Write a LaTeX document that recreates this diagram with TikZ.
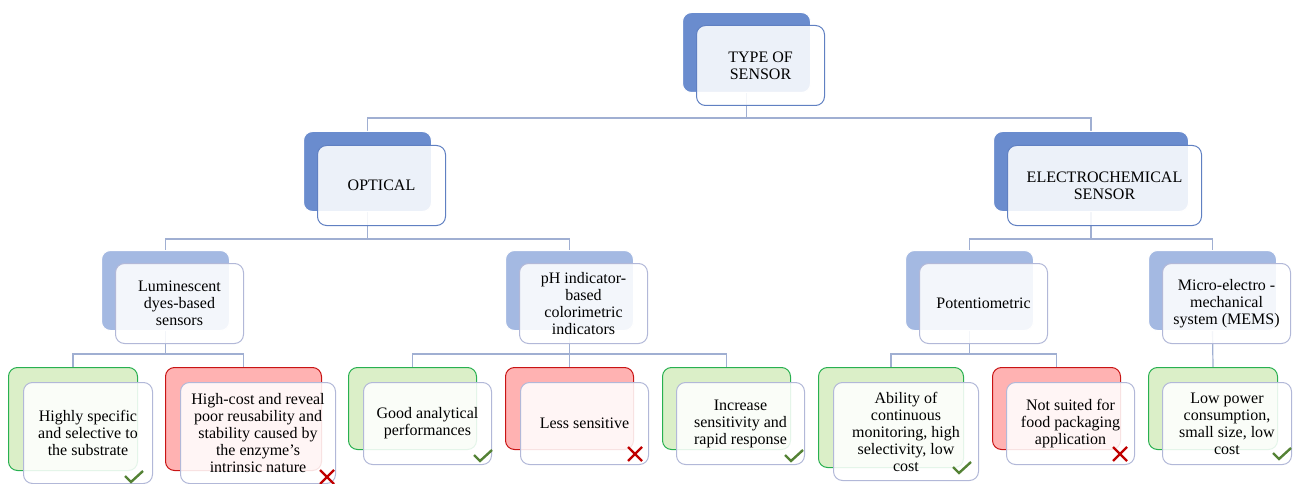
\documentclass[tikz,border=0pt]{standalone}
\usepackage{fontspec}
\setmainfont{Liberation Serif}
\usetikzlibrary{backgrounds}

\definecolor{topblue}{RGB}{106,140,206}
\definecolor{midblue}{RGB}{164,185,226}
\definecolor{frontline}{RGB}{96,128,194}
\definecolor{leafline}{RGB}{178,184,216}
\definecolor{connline}{RGB}{160,175,210}
\definecolor{goodfill}{RGB}{219,239,200}
\definecolor{goodline}{RGB}{40,176,80}
\definecolor{badfill}{RGB}{255,178,178}
\definecolor{badline}{RGB}{200,20,20}
\definecolor{tickgreen}{RGB}{84,130,53}
\definecolor{crossred}{RGB}{192,0,0}

\begin{document}
\begin{tikzpicture}[x=1pt, y=-1pt,
    box/.style = {draw, rounded corners=9pt, anchor=north west, inner sep=0pt, line width=1pt},
    std/.style = {minimum width=128, minimum height=80},
    leaf/.style = {minimum height=82},
    backtop/.style = {box, fill=topblue, draw=white},
    backmid/.style = {box, fill=midblue, draw=white},
    good/.style = {box, fill=goodfill, draw=goodline},
    bad/.style = {box, fill=badfill, draw=badline},
    front/.style = {box, draw=frontline, fill=white, fill opacity=0.88, text opacity=1,
        align=center, font=\rmfamily\fontsize{16}{17}\selectfont},
    frontleaf/.style = {front, draw=leafline},
    conn/.style = {draw=connline, line width=1.2pt},
    tick/.pic = {\draw[tickgreen, line width=2.4pt] (-9,-1) -- (-3,5) -- (9,-6);},
    cross/.pic = {\draw[crossred, line width=2.4pt] (-7,-7) -- (7,7) (-7,7) -- (7,-7);}]

    \useasboundingbox (0,0) rectangle (1296,484);

    % level 0
    \node[backtop, std] (typeb) at (682,12) {};
    \node[front, std] (type) at (696,25) {TYPE OF\\SENSOR};

    % level 1
    \node[backtop, std] (optb) at (303,131) {};
    \node[front, std] (opt) at (317,145) {OPTICAL};
    \node[backtop, std, minimum width=195] (elecb) at (993,131) {};
    \node[front, std, minimum width=194] (elec) at (1007,145) {ELECTROCHEMICAL\\SENSOR};

    % level 2
    \node[backmid, std] (lumb) at (101,250) {};
    \node[frontleaf, std] (lum) at (115,263) {Luminescent\\dyes-based\\sensors};
    \node[backmid, std] (phb) at (505,250) {};
    \node[frontleaf, std] (ph) at (519,263) {pH indicator-\\based\\colorimetric\\indicators};
    \node[backmid, std] (potb) at (905,250) {};
    \node[frontleaf, std] (pot) at (919,263) {Potentiometric};
    \node[backmid, std] (memsb) at (1148,250) {};
    \node[frontleaf, std] (mems) at (1162,263) {Micro-electro -\\mechanical\\system (MEMS)};

    % leaves
    \node[good, minimum width=129, minimum height=103] (lgoodb) at (8,367) {};
    \node[frontleaf, minimum width=129, minimum height=101] (lgood) at (23,382) {Highly specific\\and selective to\\the substrate};
    \node[bad, minimum width=156, minimum height=103] (lbadb) at (165,367) {};
    \node[frontleaf, minimum width=155, minimum height=101] (lbad) at (180,382) {High-cost and reveal\\poor reusability and\\stability caused by\\the enzyme’s\\intrinsic nature};

    \node[good, std, leaf] (pgoodb) at (348,367) {};
    \node[frontleaf, std, leaf] (pgood) at (363,382) {Good analytical\\performances};
    \node[bad, std, leaf] (pbadb) at (505,367) {};
    \node[frontleaf, std, leaf] (pbad) at (520,382) {Less sensitive};
    \node[good, std, leaf] (pfastb) at (662,367) {};
    \node[frontleaf, std, leaf] (pfast) at (676,382) {Increase\\sensitivity and\\rapid response};

    \node[good, minimum width=145, minimum height=100] (tgoodb) at (818,367) {};
    \node[frontleaf, minimum width=145, minimum height=98] (tgood) at (833,382) {Ability of\\continuous\\monitoring, high\\selectivity, low\\cost};
    \node[bad, std, leaf] (tbadb) at (992,367) {};
    \node[frontleaf, std, leaf] (tbad) at (1006,382) {Not suited for\\food packaging\\application};
    \node[good, minimum width=129, leaf] (mgoodb) at (1148,367) {};
    \node[frontleaf, minimum width=129, leaf] (mgood) at (1162,382) {Low power\\consumption,\\small size, low\\cost};

    % connectors
    \begin{scope}[on background layer]
        \draw[conn] (typeb.south) -- ++(0,25) -| (optb.north);
        \draw[conn] (typeb.south) -- ++(0,25) -| (elecb.north);

        \draw[conn] (optb.south) -- ++(0,27) -| (lumb.north);
        \draw[conn] (optb.south) -- ++(0,27) -| (phb.north);
        \draw[conn] (elecb.south) -- ++(0,27) -| (potb.north);
        \draw[conn] (elecb.south) -- ++(0,27) -| (memsb.north);

        \draw[conn] (lumb.south) -- ++(0,23) -| (lgoodb.north);
        \draw[conn] (lumb.south) -- ++(0,23) -| (lbadb.north);
        \draw[conn] (phb.south) -- ++(0,23) -| (pgoodb.north);
        \draw[conn] (phb.south) -- (pbadb.north);
        \draw[conn] (phb.south) -- ++(0,23) -| (pfastb.north);
        \draw[conn] (potb.south) -- ++(0,23) -| (tgoodb.north);
        \draw[conn] (potb.south) -- ++(0,23) -| (tbadb.north);
        \draw[conn] (memsb.south) -- (mgoodb.north);
    \end{scope}

    % marks
    \pic at ([shift={(-19,-7)}]lgood.south east) {tick};
    \pic at ([shift={(-9,-7)}]lbad.south east) {cross};
    \pic at ([shift={(-9,-9)}]pgood.south east) {tick};
    \pic at ([shift={(-14,-11)}]pbad.south east) {cross};
    \pic at ([shift={(-11,-9)}]pfast.south east) {tick};
    \pic at ([shift={(-17,-13)}]tgood.south east) {tick};
    \pic at ([shift={(-15,-11)}]tbad.south east) {cross};
    \pic at ([shift={(-10,-11)}]mgood.south east) {tick};

\end{tikzpicture}
\end{document}
